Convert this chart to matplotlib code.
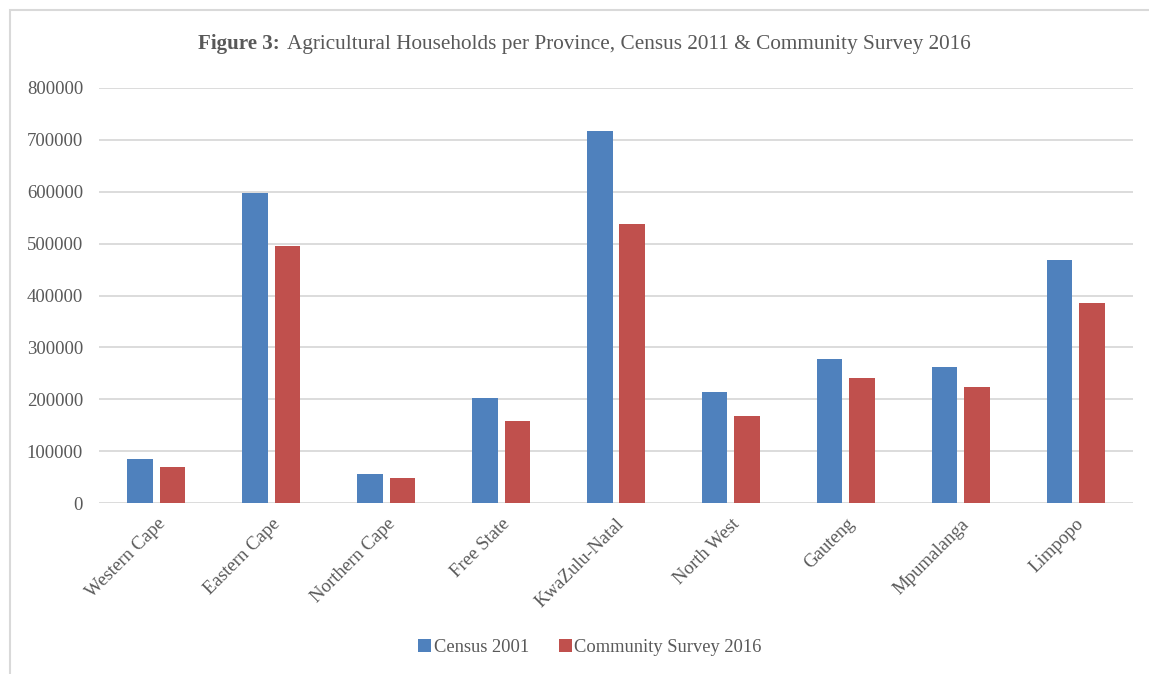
import matplotlib
matplotlib.use("Agg")
import matplotlib.pyplot as plt
import numpy as np
from matplotlib.patches import Rectangle

provinces = ["Western Cape", "Eastern Cape", "Northern Cape", "Free State",
             "KwaZulu-Natal", "North West", "Gauteng", "Mpumalanga", "Limpopo"]
census_2001 = [84200, 597300, 55300, 201600, 716500, 213800, 278200, 262200, 468400]
survey_2016 = [68800, 495200, 48700, 157500, 537000, 168200, 241600, 224300, 385900]
yticks = [0, 100000, 200000, 300000, 400000, 500000, 600000, 700000, 800000]

blue = "#4F81BD"
red = "#C0504D"
txt = "#595959"
grid = "#D9D9D9"

plt.rcParams['font.family'] = ['Liberation Serif', 'DejaVu Serif']

fig = plt.figure(figsize=(11.49, 6.74), dpi=100)
W, H = 1149, 674
ax = fig.add_axes([99 / W, 1 - 503 / H, (1133 - 99) / W, (503 - 88) / H])

x = np.arange(len(provinces))
bw = 0.222
gap = 0.06
ax.bar(x - (bw + gap) / 2, census_2001, width=bw, color=blue, label="Census 2001", zorder=3)
ax.bar(x + (bw + gap) / 2, survey_2016, width=bw, color=red, label="Community Survey 2016", zorder=3)

ax.set_xlim(-0.5, len(provinces) - 0.5)
ax.set_ylim(0, 800000)
ax.set_yticks(yticks)
ax.set_yticklabels([str(v) for v in yticks], fontsize=13.5, color=txt)
ax.set_xticks(x)
ax.set_xticklabels(provinces, rotation=45, ha="right", va="top", rotation_mode="anchor",
                   fontsize=13.5, color=txt)
ax.tick_params(axis="both", length=0)
ax.tick_params(axis="y", pad=11.5)
ax.tick_params(axis="x", pad=9)
ax.yaxis.grid(True, color=grid, linewidth=1.3, zorder=0)
for s in ax.spines.values():
    s.set_visible(False)

# chart border
fig.add_artist(Rectangle((10 / W, -0.1), 1.2, 1 - 9.5 / H + 0.1, transform=fig.transFigure,
                         fill=False, edgecolor=grid, linewidth=1.5))

# title
ty = 1 - 44.5 / H
t1 = fig.text(198 / W, ty, "Figure 3:", fontsize=15.1, fontweight="bold",
              color=txt, ha="left", va="center")
fig.canvas.draw()
bb = t1.get_window_extent()
fig.text(bb.x1 / W + 7 / W, ty,
         "Agricultural Households per Province, Census 2011 & Community Survey 2016",
         fontsize=15.3, color=txt, ha="left", va="center")

leg = fig.legend(loc="center", bbox_to_anchor=(590 / W, 1 - 647 / H), ncol=2, frameon=False,
                 fontsize=13.3, handlelength=0.7, handleheight=0.7, handletextpad=0.15,
                 columnspacing=1.6)
for t in leg.get_texts():
    t.set_color(txt)

fig.savefig("out.png", dpi=100)
